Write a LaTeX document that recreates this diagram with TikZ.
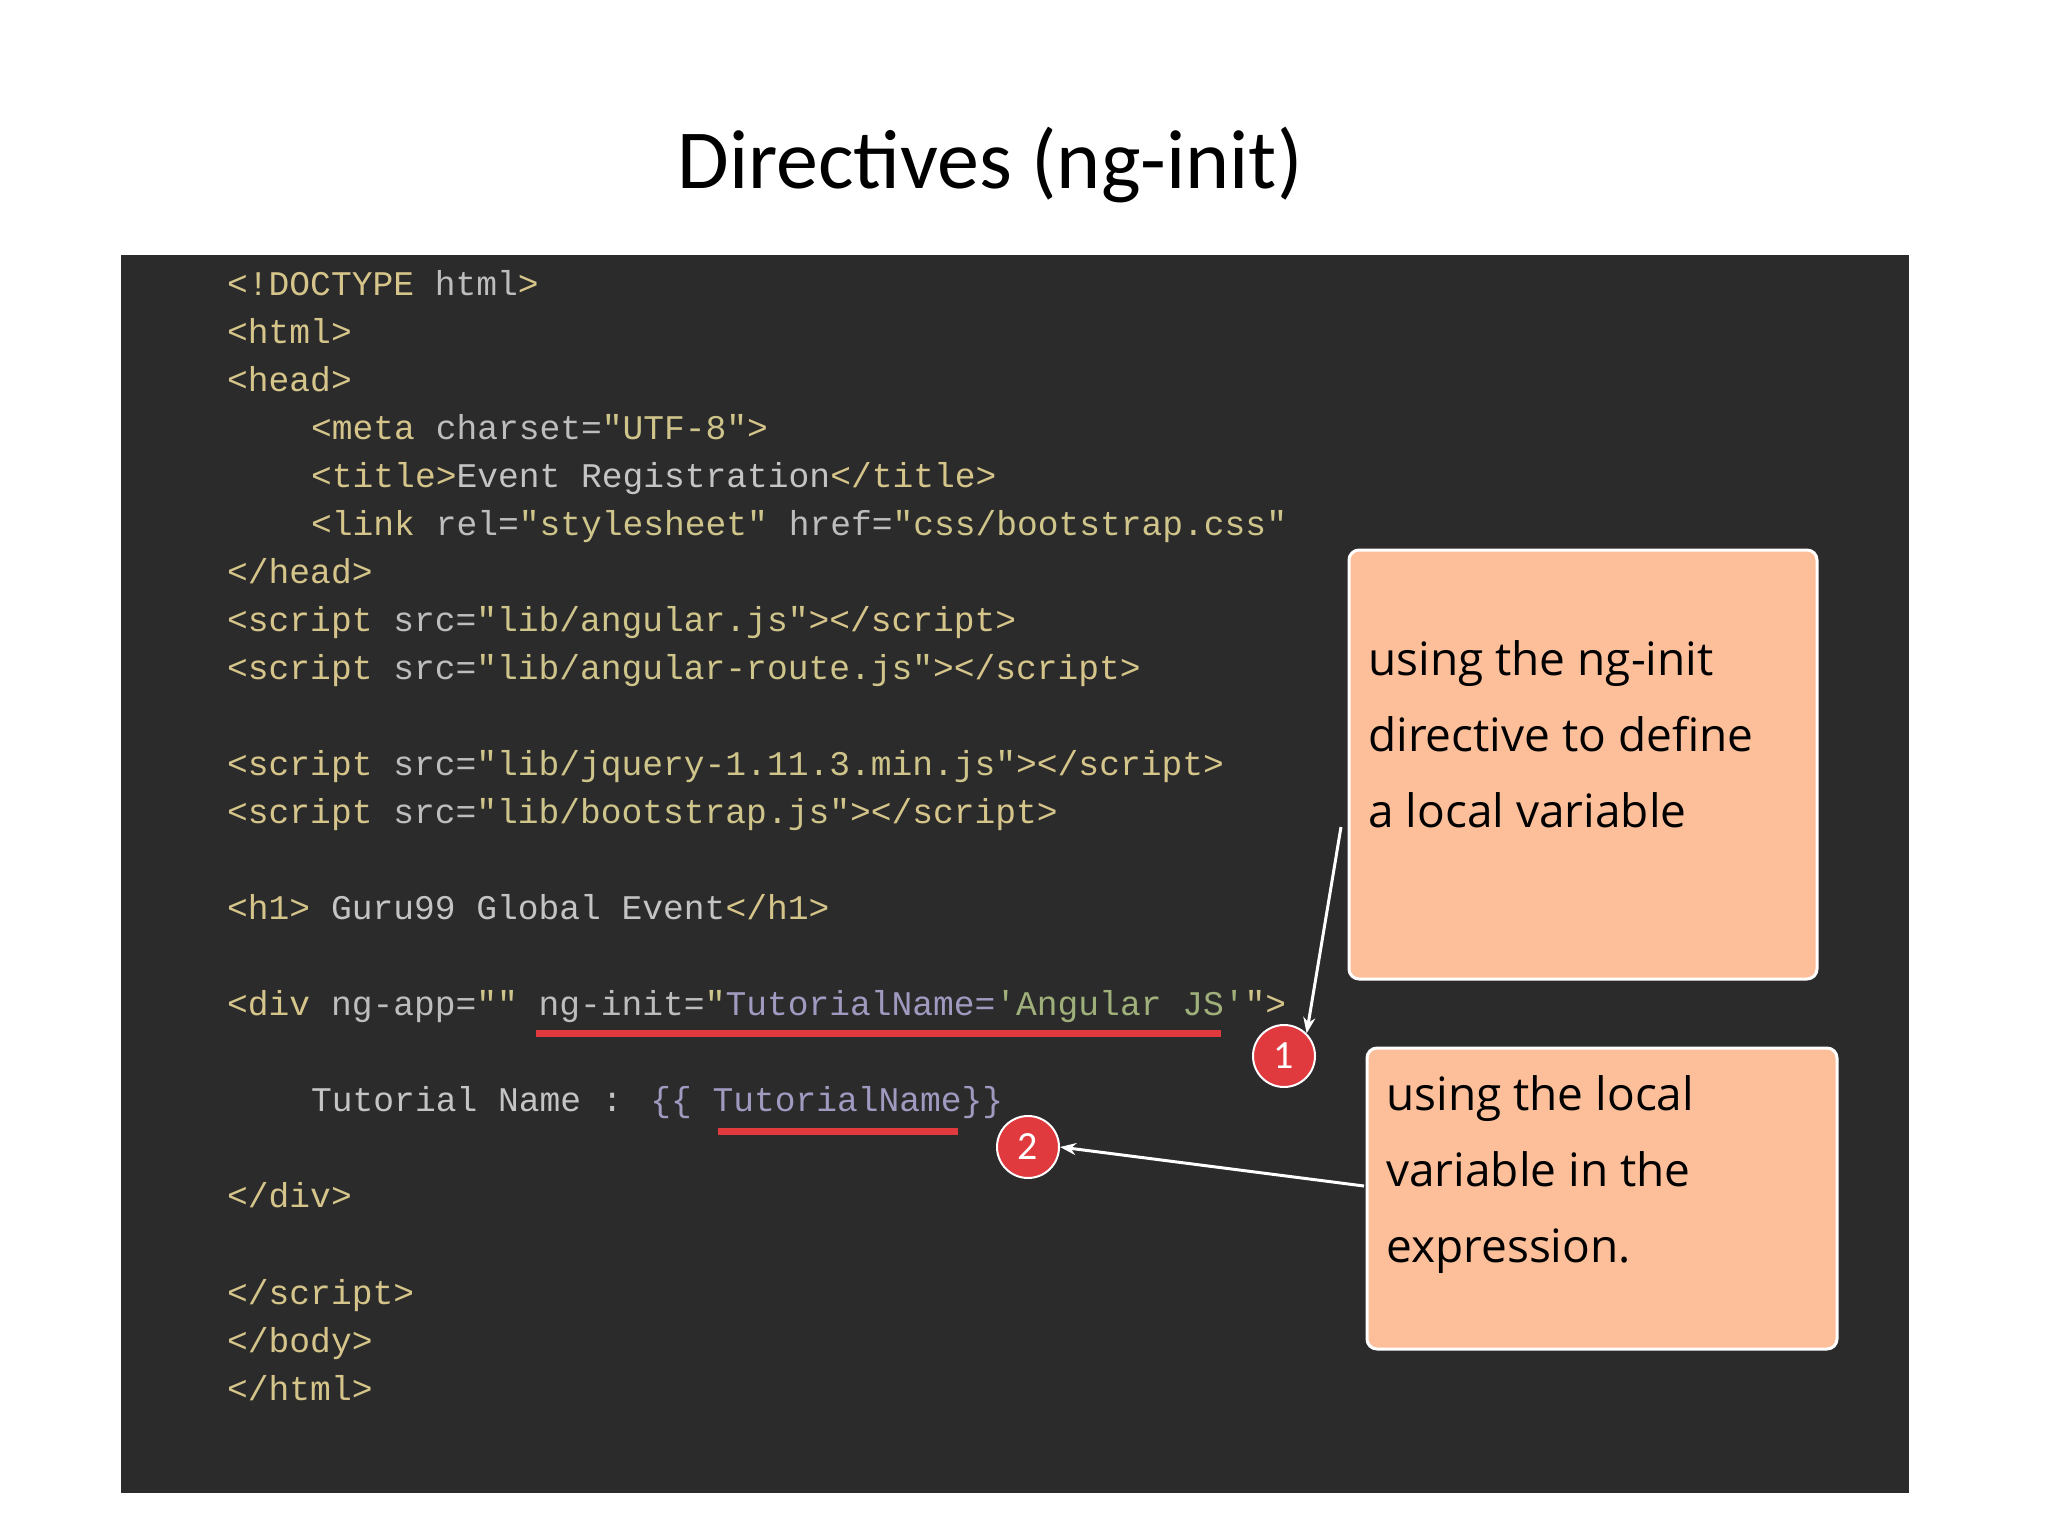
\documentclass[tikz,border=0pt]{standalone}
\usepackage{fontspec}
\usetikzlibrary{arrows.meta}
\setmainfont{Carlito}
\newfontfamily\code{Liberation Mono}
\newfontfamily\hand{Open Sans}
\definecolor{bg}{HTML}{2B2B2B}
\definecolor{tgc}{HTML}{D6C58A}
\definecolor{atc}{HTML}{BDBDBD}
\definecolor{stc}{HTML}{CFC48A}
\definecolor{txc}{HTML}{C4C4C4}
\definecolor{puc}{HTML}{A09AC0}
\definecolor{grc}{HTML}{9FB07A}
\definecolor{peach}{HTML}{FCBF9A}
\definecolor{redm}{HTML}{E0393E}
\newcommand{\tg}[1]{\textcolor{tgc}{#1}}
\newcommand{\atr}[1]{\textcolor{atc}{#1}}
\newcommand{\st}[1]{\textcolor{stc}{#1}}
\newcommand{\tx}[1]{\textcolor{txc}{#1}}
\begin{document}
\begin{tikzpicture}[x=1pt,y=-1pt,
  codeline/.style={anchor=base west,inner sep=0,font=\code\fontsize{34.6}{40}\selectfont},
  note/.style={draw=white,line width=3,fill=peach,rounded corners=10},
  notetext/.style={anchor=north west,inner sep=0,align=left,font=\hand\fontsize{46}{76}\selectfont},
  badge/.style={circle,fill=redm,draw=white,line width=2,minimum size=62,inner sep=0,text=white,font=\fontsize{40}{40}\selectfont},
  uline/.style={draw=redm,line width=7},
  arr/.style={draw=white,line width=3,-{Stealth[length=16,width=12]}}]
\useasboundingbox (0,0) rectangle (2048,1536);
\fill[white] (0,0) rectangle (2048,1536);
\node[font=\fontsize{84}{90}\selectfont] (title) at (990,165) {Directives (ng-init)};
\fill[bg] (121,255) rectangle (1909,1493);
\foreach \i/\x/\t in {
 0/227/{\tg{<!DOCTYPE} \atr{html}\tg{>}},
 1/227/{\tg{<html>}},
 2/227/{\tg{<head>}},
 3/311/{\tg{<meta} \atr{charset=}\st{"UTF-8"}\tg{>}},
 4/311/{\tg{<title>}\tx{Event Registration}\tg{</title>}},
 5/311/{\tg{<link} \atr{rel=}\st{"stylesheet"} \atr{href=}\st{"css/bootstrap.css"}},
 6/227/{\tg{</head>}},
 7/227/{\tg{<script} \atr{src=}\st{"lib/angular.js"}\tg{></script>}},
 8/227/{\tg{<script} \atr{src=}\st{"lib/angular-route.js"}\tg{></script>}},
 10/227/{\tg{<script} \atr{src=}\st{"lib/jquery-1.11.3.min.js"}\tg{></script>}},
 11/227/{\tg{<script} \atr{src=}\st{"lib/bootstrap.js"}\tg{></script>}},
 13/227/{\tg{<h1>} \tx{Guru99 Global Event}\tg{</h1>}},
 15/227/{\tg{<div} \atr{ng-app=}\st{""} \atr{ng-init=}\st{"}\textcolor{puc}{TutorialName=}\textcolor{grc}{'Angular JS'}\st{"}\tg{>}},
 17/311/{\tx{Tutorial Name : }\textcolor{puc}{\{\{ TutorialName\}\}}},
 19/227/{\tg{</div>}},
 21/227/{\tg{</script>}},
 22/227/{\tg{</body>}},
 23/227/{\tg{</html>}}}
 {\node[codeline] (l\i) at (\x,{295+48.05*\i}) {\t};}
\draw[uline] (536,1033) -- (1221,1033);
\draw[uline] (718,1131) -- (958,1131);
\draw[note] (1349,550) rectangle (1817,979);
\node[notetext] (n1) at (1368,640) {using the ng-init\\directive to define\\a local variable};
\draw[note] (1367,1048) rectangle (1837,1349);
\node[notetext] (n2) at (1386,1075) {using the local\\variable in the\\expression.};
\node[badge] (b1) at (1284,1056) {1};
\node[badge] (b2) at (1028,1147) {2};
\coordinate (a1) at (1341,827);
\coordinate (a2) at (1364,1186);
\draw[arr] (a1) -- (b1.north east);
\draw[arr] (a2) -- (b2.east);
\end{tikzpicture}
\end{document}
